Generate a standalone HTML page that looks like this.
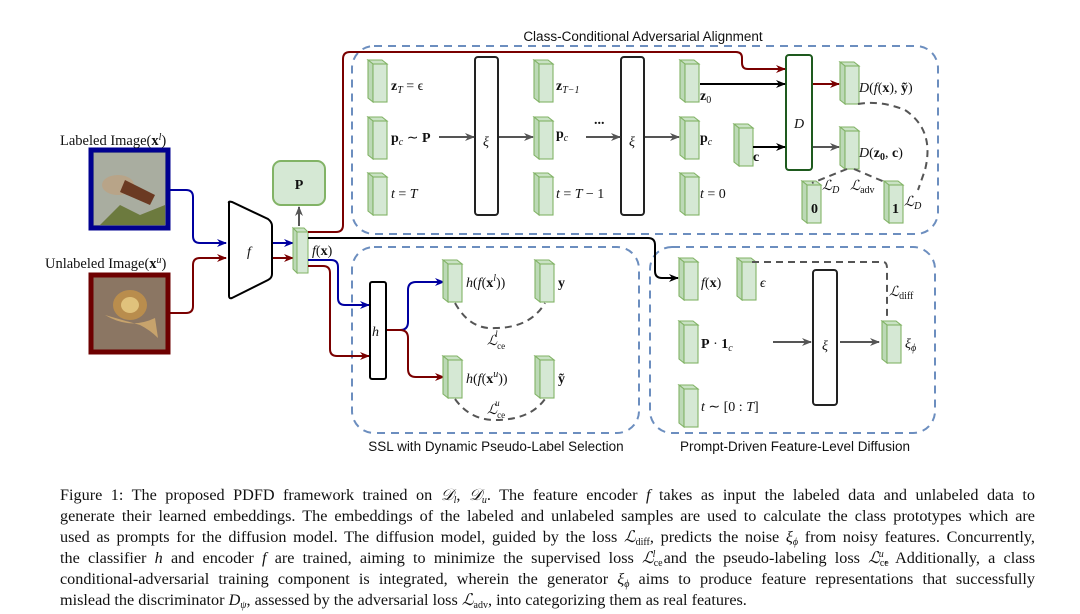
<!DOCTYPE html>
<html><head><meta charset="utf-8"><style>
body{margin:0;width:1080px;height:614px;background:#fff;overflow:hidden;position:relative;font-family:"Liberation Serif",serif}
svg{position:absolute;left:0;top:0}
.cap{position:absolute;left:60px;width:975px;font-size:16.2px;color:#111;text-align:justify;text-align-last:justify;white-space:nowrap;line-height:18px}
.cap sub,.cap sup{font-size:10px;line-height:0;position:relative;vertical-align:baseline}
.cap sub{top:3px}.cap sup{top:-6px}
.m{font-family:"Liberation Serif",serif;font-size:14px;fill:#111}
.ss{font-family:"Liberation Sans",sans-serif;font-size:13.5px;fill:#111}
</style></head><body>
<svg width="1080" height="614" viewBox="0 0 1080 614">
<defs>
<g id="blk">
<polygon points="0,0 14,0 19,4 5,4" fill="#c9e2c4" stroke="#82b366" stroke-width="1.1"/>
<polygon points="0,0 5,4 5,42 0,38" fill="#bcd9b6" stroke="#82b366" stroke-width="1.1"/>
<rect x="5" y="4" width="14" height="38" fill="#d5e8d4" stroke="#82b366" stroke-width="1.1"/>
</g>
<marker id="ab" markerWidth="10" markerHeight="10" refX="9" refY="5" orient="auto" markerUnits="userSpaceOnUse"><path d="M0,1 L10,5 L0,9 L3,5Z" fill="#0000a0"/></marker>
<marker id="ar" markerWidth="10" markerHeight="10" refX="9" refY="5" orient="auto" markerUnits="userSpaceOnUse"><path d="M0,1 L10,5 L0,9 L3,5Z" fill="#7a0000"/></marker>
<marker id="ak" markerWidth="10" markerHeight="10" refX="9" refY="5" orient="auto" markerUnits="userSpaceOnUse"><path d="M0,1 L10,5 L0,9 L3,5Z" fill="#000"/></marker>
<marker id="ag" markerWidth="10" markerHeight="10" refX="9" refY="5" orient="auto" markerUnits="userSpaceOnUse"><path d="M0,1 L10,5 L0,9 L3,5Z" fill="#555"/></marker>
</defs>

<g fill="none" stroke="#6c8ebf" stroke-width="2" stroke-dasharray="8,6">
<rect x="352" y="46" width="586" height="188" rx="22"/>
<rect x="352" y="247" width="287" height="186" rx="22"/>
<rect x="650" y="247" width="285" height="186" rx="22"/>
</g>
<text class="ss" x="643" y="41" text-anchor="middle">Class-Conditional Adversarial Alignment</text>
<text class="ss" x="496" y="451" text-anchor="middle">SSL with Dynamic Pseudo-Label Selection</text>
<text class="ss" x="795" y="451" text-anchor="middle">Prompt-Driven Feature-Level Diffusion</text>

<rect x="91" y="150" width="77" height="78" fill="#8f9a86" stroke="#000090" stroke-width="5"/>
<rect x="94" y="153" width="71" height="72" fill="#a9ada0"/>
<ellipse cx="118" cy="185" rx="16" ry="10" fill="#b8a488"/>
<path d="M125,180 L155,195 L150,205 L120,192Z" fill="#6b3a22"/>
<path d="M100,225 L120,205 L140,215 L165,205 L165,225Z" fill="#6c7a3e"/>
<rect x="91" y="275" width="77" height="77" fill="#8b7663" stroke="#6e0000" stroke-width="5"/>
<ellipse cx="130" cy="305" rx="17" ry="15" fill="#b98d4d"/>
<ellipse cx="130" cy="305" rx="9" ry="8" fill="#e0c27c"/>
<path d="M105,315 Q130,330 155,318 L158,338 Q150,330 140,325 Z" fill="#c7a36c"/>
<text class="m" x="60" y="145" style="font-size:14.5px">Labeled Image(<tspan font-weight="bold">x</tspan><tspan dy="-5" font-size="10" font-style="italic">l</tspan><tspan dy="5">)</tspan></text>
<text class="m" x="45" y="268" style="font-size:14.5px">Unlabeled Image(<tspan font-weight="bold">x</tspan><tspan dy="-5" font-size="10" font-style="italic">u</tspan><tspan dy="5">)</tspan></text>

<path d="M170,190 H186 Q193,190 193,197 V236 Q193,243 200,243 H226" fill="none" stroke="#0000a0" stroke-width="2" marker-end="url(#ab)"/>
<path d="M170,313 H186 Q193,313 193,306 V265 Q193,258 200,258 H226" fill="none" stroke="#7a0000" stroke-width="2" marker-end="url(#ar)"/>

<path d="M229,203 Q228,201 232,202 L268,219 Q272,222 272,226 V274 Q272,278 268,280 L232,298 Q229,299 229,296 Z" fill="#fff" stroke="#000" stroke-width="2"/>
<text class="m" x="247" y="256" font-style="italic" font-size="17">f</text>
<line x1="273" y1="243" x2="293" y2="243" stroke="#0000a0" stroke-width="2" marker-end="url(#ab)"/>
<line x1="273" y1="258" x2="293" y2="258" stroke="#7a0000" stroke-width="2" marker-end="url(#ar)"/>

<rect x="273" y="161" width="52" height="44" rx="8" fill="#d5e8d4" stroke="#82b366" stroke-width="2"/>
<text class="m" x="299" y="189" text-anchor="middle" font-weight="bold" font-size="16">P</text>
<line x1="299" y1="226" x2="299" y2="207" stroke="#555" stroke-width="2" marker-end="url(#ag)"/>

<polygon points="293,228 304,228 308,232 297,232" fill="#c9e2c4" stroke="#82b366"/>
<polygon points="293,228 297,232 297,273 293,269" fill="#bcd9b6" stroke="#82b366"/>
<rect x="297" y="232" width="11" height="41" fill="#d5e8d4" stroke="#82b366"/>
<text class="m" x="312" y="255" font-size="15"><tspan font-style="italic">f</tspan>(<tspan font-weight="bold">x</tspan>)</text>

<path d="M308,232 H336 Q343,232 343,225 V59 Q343,52 350,52 H736 Q742,52 742,58 V63 Q742,69 748,69 H785" fill="none" stroke="#7a0000" stroke-width="2" marker-end="url(#ar)"/>
<path d="M308,238 H648 Q655,238 655,245 V271 Q655,278 662,278 H678" fill="none" stroke="#000" stroke-width="2" marker-end="url(#ak)"/>
<path d="M308,260 H331 Q338,260 338,267 V298 Q338,305 345,305 H369" fill="none" stroke="#0000a0" stroke-width="2" marker-end="url(#ab)"/>
<path d="M308,266 H323 Q330,266 330,273 V349 Q330,356 337,356 H369" fill="none" stroke="#7a0000" stroke-width="2" marker-end="url(#ar)"/>

<rect x="370" y="282" width="16" height="97" rx="2" fill="#fff" stroke="#000" stroke-width="2"/>
<text class="m" x="372" y="336" font-style="italic" font-size="17">h</text>
<path d="M387,330 H400 Q408,330 408,322 V290 Q408,282 416,282 H444" fill="none" stroke="#0000a0" stroke-width="2" marker-end="url(#ab)"/>
<path d="M387,330 H400 Q408,330 408,338 V369 Q408,377 416,377 H444" fill="none" stroke="#7a0000" stroke-width="2" marker-end="url(#ar)"/>

<use href="#blk" x="443" y="260"/>
<use href="#blk" x="535" y="260"/>
<use href="#blk" x="443" y="356"/>
<use href="#blk" x="535" y="356"/>
<text class="m" x="466" y="287" font-size="15"><tspan font-style="italic">h</tspan>(<tspan font-style="italic">f</tspan>(<tspan font-weight="bold">x</tspan><tspan dy="-6" font-size="10" font-style="italic">l</tspan><tspan dy="6">))</tspan></text>
<text class="m" x="466" y="383" font-size="15"><tspan font-style="italic">h</tspan>(<tspan font-style="italic">f</tspan>(<tspan font-weight="bold">x</tspan><tspan dy="-6" font-size="10" font-style="italic">u</tspan><tspan dy="6">))</tspan></text>
<text class="m" x="558" y="287" font-weight="bold" font-size="15">y</text>
<text class="m" x="558" y="383" font-weight="bold" font-size="15">ỹ</text>
<path d="M455,303 Q470,330 495,328 Q530,328 545,303" fill="none" stroke="#555" stroke-width="2" stroke-dasharray="7,5"/>
<path d="M455,399 Q470,420 495,420 Q530,420 545,399" fill="none" stroke="#555" stroke-width="2" stroke-dasharray="7,5"/>
<text class="m" x="487" y="345" font-style="italic" font-size="15">ℒ<tspan dy="4" font-size="9" font-style="normal">ce</tspan><tspan dx="-10" dy="-12" font-size="9">l</tspan></text>
<text class="m" x="487" y="414" font-style="italic" font-size="15">ℒ<tspan dy="4" font-size="9" font-style="normal">ce</tspan><tspan dx="-10" dy="-12" font-size="9">u</tspan></text>

<use href="#blk" x="368" y="60"/><use href="#blk" x="368" y="117"/><use href="#blk" x="368" y="173"/>
<use href="#blk" x="534" y="60"/><use href="#blk" x="534" y="117"/><use href="#blk" x="534" y="173"/>
<use href="#blk" x="680" y="60"/><use href="#blk" x="680" y="117"/><use href="#blk" x="680" y="173"/>
<use href="#blk" x="734" y="124"/>
<use href="#blk" x="840" y="62"/><use href="#blk" x="840" y="127"/>
<use href="#blk" x="802" y="181"/><use href="#blk" x="884" y="181"/>
<text class="m" x="811" y="213" font-weight="bold" font-size="15">0</text>
<text class="m" x="892" y="213" font-weight="bold" font-size="15">1</text>

<text class="m" x="391" y="90" font-size="14"><tspan font-weight="bold">z</tspan><tspan font-size="10" dy="3" font-style="italic">T</tspan><tspan dy="-3"> = ϵ</tspan></text>
<text class="m" x="391" y="142" font-size="14"><tspan font-weight="bold">p</tspan><tspan font-size="10" dy="3" font-style="italic">c</tspan><tspan dy="-3"> ∼ </tspan><tspan font-weight="bold">P</tspan></text>
<text class="m" x="391" y="198" font-size="14" font-style="italic">t <tspan font-style="normal">=</tspan> T</text>
<text class="m" x="556" y="90" font-size="14"><tspan font-weight="bold">z</tspan><tspan font-size="10" dy="3" font-style="italic">T−1</tspan></text>
<text class="m" x="556" y="138" font-size="14"><tspan font-weight="bold">p</tspan><tspan font-size="10" dy="3" font-style="italic">c</tspan></text>
<text class="m" x="556" y="198" font-size="14" font-style="italic">t <tspan font-style="normal">=</tspan> T <tspan font-style="normal">− 1</tspan></text>
<text class="m" x="700" y="100" font-size="14"><tspan font-weight="bold">z</tspan><tspan font-size="10" dy="3">0</tspan></text>
<text class="m" x="700" y="142" font-size="14"><tspan font-weight="bold">p</tspan><tspan font-size="10" dy="3" font-style="italic">c</tspan></text>
<text class="m" x="700" y="198" font-size="14" font-style="italic">t <tspan font-style="normal">= 0</tspan></text>
<text class="m" x="753" y="161" font-size="14" font-weight="bold">c</text>
<text class="m" x="594" y="124" font-size="12" font-weight="bold">...</text>

<rect x="475" y="57" width="23" height="158" rx="3" fill="#fff" stroke="#222" stroke-width="2"/>
<rect x="621" y="57" width="23" height="158" rx="3" fill="#fff" stroke="#222" stroke-width="2"/>
<text class="m" x="486" y="146" text-anchor="middle" font-style="italic" font-size="24">ξ</text>
<text class="m" x="632" y="146" text-anchor="middle" font-style="italic" font-size="24">ξ</text>
<g stroke="#555" stroke-width="2">
<line x1="439" y1="137" x2="474" y2="137" marker-end="url(#ag)"/>
<line x1="499" y1="137" x2="533" y2="137" marker-end="url(#ag)"/>
<line x1="586" y1="137" x2="620" y2="137" marker-end="url(#ag)"/>
<line x1="645" y1="137" x2="679" y2="137" marker-end="url(#ag)"/>
<line x1="813" y1="147" x2="839" y2="147" marker-end="url(#ag)"/>
</g>
<rect x="786" y="55" width="26" height="115" rx="3" fill="#fff" stroke="#1e5a1e" stroke-width="2"/>
<text class="m" x="799" y="128" text-anchor="middle" font-style="italic" font-size="20">D</text>
<line x1="700" y1="84" x2="785" y2="84" stroke="#000" stroke-width="2" marker-end="url(#ak)"/>
<line x1="753" y1="147" x2="785" y2="147" stroke="#000" stroke-width="2" marker-end="url(#ak)"/>
<line x1="813" y1="84" x2="839" y2="84" stroke="#7a0000" stroke-width="2" marker-end="url(#ar)"/>
<text class="m" x="859" y="92" font-size="15"><tspan font-style="italic">D</tspan>(<tspan font-style="italic">f</tspan>(<tspan font-weight="bold">x</tspan>), <tspan font-weight="bold">ỹ</tspan>)</text>
<text class="m" x="859" y="157" font-size="15"><tspan font-style="italic">D</tspan>(<tspan font-weight="bold">z</tspan><tspan font-size="10" dy="3" font-weight="bold">0</tspan><tspan dy="-3">, </tspan><tspan font-weight="bold">c</tspan>)</text>
<g fill="none" stroke="#555" stroke-width="2" stroke-dasharray="7,5">
<path d="M858,104 Q880,100 905,110 Q935,130 925,170 L918,190"/>
<path d="M847,169 L812,183"/>
<path d="M854,169 L887,183"/>
</g>
<text class="m" x="822" y="190" font-style="italic" font-size="14">ℒ<tspan font-size="10" dy="3">D</tspan></text>
<text class="m" x="850" y="190" font-style="italic" font-size="14">ℒ<tspan font-size="10" dy="3" font-style="normal">adv</tspan></text>
<text class="m" x="904" y="206" font-style="italic" font-size="14">ℒ<tspan font-size="10" dy="3">D</tspan></text>

<use href="#blk" x="679" y="258"/><use href="#blk" x="737" y="258"/>
<use href="#blk" x="679" y="321"/><use href="#blk" x="679" y="385"/>
<use href="#blk" x="882" y="321"/>
<text class="m" x="701" y="287" font-size="15"><tspan font-style="italic">f</tspan>(<tspan font-weight="bold">x</tspan>)</text>
<text class="m" x="760" y="287" font-size="14" font-style="italic">ϵ</text>
<text class="m" x="701" y="348" font-size="15"><tspan font-weight="bold">P</tspan> · <tspan font-weight="bold">1</tspan><tspan font-size="10" dy="3" font-style="italic">c</tspan></text>
<text class="m" x="701" y="411" font-size="15"><tspan font-style="italic">t</tspan> ∼ [0 : <tspan font-style="italic">T</tspan>]</text>
<text class="m" x="905" y="348" font-size="15" font-style="italic">ξ<tspan font-size="10" dy="3">ϕ</tspan></text>
<text class="m" x="889" y="296" font-size="15" font-style="italic">ℒ<tspan font-size="10" dy="3" font-style="normal">diff</tspan></text>
<rect x="813" y="270" width="24" height="135" rx="3" fill="#fff" stroke="#222" stroke-width="2"/>
<text class="m" x="825" y="350" text-anchor="middle" font-style="italic" font-size="24">ξ</text>
<line x1="773" y1="342" x2="811" y2="342" stroke="#555" stroke-width="2" marker-end="url(#ag)"/>
<line x1="840" y1="342" x2="879" y2="342" stroke="#555" stroke-width="2" marker-end="url(#ag)"/>
<path d="M752,262 H883 Q887,262 887,268 V318" fill="none" stroke="#555" stroke-width="2" stroke-dasharray="7,5"/>
</svg>

<div class="cap" style="top:486px">Figure 1: The proposed PDFD framework trained on <i>𝒟</i><sub><i>l</i></sub>, <i>𝒟</i><sub><i>u</i></sub>. The feature encoder <i>f</i> takes as input the labeled data and unlabeled data to</div>
<div class="cap" style="top:507px">generate their learned embeddings. The embeddings of the labeled and unlabeled samples are used to calculate the class prototypes which are</div>
<div class="cap" style="top:528px">used as prompts for the diffusion model. The diffusion model, guided by the loss <i>ℒ</i><sub>diff</sub>, predicts the noise <i>ξ</i><sub><i>ϕ</i></sub> from noisy features. Concurrently,</div>
<div class="cap" style="top:549px">the classifier <i>h</i> and encoder <i>f</i> are trained, aiming to minimize the supervised loss <i>ℒ</i><sub>ce</sub><sup style="margin-left:-10px"><i>l</i></sup> and the pseudo-labeling loss <i>ℒ</i><sub>ce</sub><sup style="margin-left:-10px"><i>u</i></sup>. Additionally, a class</div>
<div class="cap" style="top:570px">conditional-adversarial training component is integrated, wherein the generator <i>ξ</i><sub><i>ϕ</i></sub> aims to produce feature representations that successfully</div>
<div class="cap" style="top:591px;text-align-last:left">mislead the discriminator <i>D</i><sub><i>ψ</i></sub>, assessed by the adversarial loss <i>ℒ</i><sub>adv</sub>, into categorizing them as real features.</div>
</body></html>
